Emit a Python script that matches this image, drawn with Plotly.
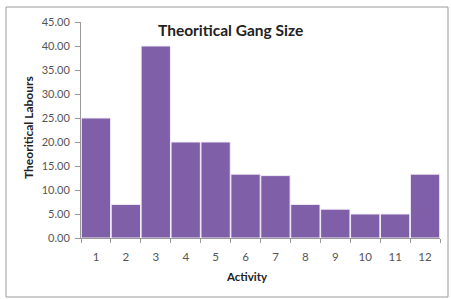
import plotly.graph_objects as go

activities = ["1", "2", "3", "4", "5", "6", "7", "8", "9", "10", "11", "12"]
labours = [25, 7, 40, 20, 20, 13.3, 13, 7, 6, 5, 5, 13.3]

W, H = 451, 299
L, R, T, B = 81, 11, 22, 61
pw, ph = W - L - R, H - T - B

def px(x):
    return (x - L) / pw

def py(y):
    return (H - B - y) / ph

fig = go.Figure(go.Bar(
    x=activities, y=labours,
    marker=dict(color="#7E5FA8", line=dict(color="#F2EEF7", width=1)),
))

ann = dict(xref="paper", yref="paper", showarrow=False,
           xanchor="center", yanchor="middle")
fig.update_layout(
    width=W, height=H,
    margin=dict(l=L, r=R, t=T, b=B),
    paper_bgcolor="white", plot_bgcolor="white",
    bargap=0.02,
    showlegend=False,
    font=dict(family="Lato, Open Sans, sans-serif", color="#444"),
    shapes=[dict(type="rect", xref="paper", yref="paper",
                 x0=px(6), x1=px(448), y0=py(297), y1=py(7),
                 line=dict(color="#9a9a9a", width=1), layer="below")],
    annotations=[
        dict(ann, text="<b>Theoritical Gang Size</b>", x=px(230), y=py(30),
             font=dict(size=15.5, color="#222")),
        dict(ann, text="<b>Activity</b>", x=px(247), y=py(276),
             font=dict(size=11.5, color="#222")),
        dict(ann, text="<b>Theoritical Labours</b>", x=px(29), y=py(128),
             textangle=-90, font=dict(size=12, color="#222")),
    ],
)
fig.update_yaxes(range=[0, 45], dtick=5, tickformat=".2f",
                 showgrid=False, showline=True, linecolor="#9a9a9a",
                 ticks="outside", ticklen=5, tickcolor="#9a9a9a",
                 ticklabelstandoff=3,
                 tickfont=dict(size=11, color="#555"), zeroline=False)
fig.update_xaxes(showgrid=False, showline=True, linecolor="#9a9a9a",
                 ticks="outside", ticklen=4, tickcolor="#9a9a9a",
                 tickson="boundaries", ticklabelstandoff=8,
                 tickfont=dict(size=11.5, color="#555"))

fig.write_html("out.html", config={"displayModeBar": False},
               post_script="document.body.style.margin='0';document.body.style.overflow='hidden';")
